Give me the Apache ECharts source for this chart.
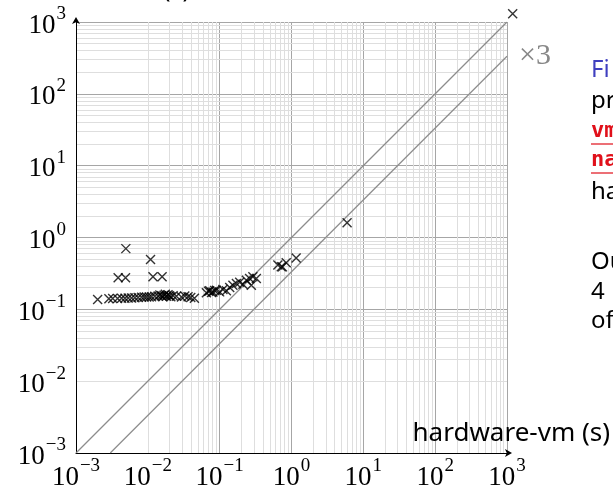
<!DOCTYPE html>
<html lang="en">
<head>
<meta charset="UTF-8" />
<title>hardware-vm scatter</title>
<script src="https://cdn.jsdelivr.net/npm/echarts@6/dist/echarts.min.js"></script>
<style>
  html, body { margin: 0; padding: 0; background: #fff; }
  #main { width: 613px; height: 491px; }
</style>
</head>
<body>
<div id="main"></div>
<script type="text/javascript">
// run times (s): x = hardware-vm, y = other tool
var lowX = [0.0020, 0.00287, 0.00324, 0.00379, 0.00431, 0.0048, 0.00533, 0.00594, 0.0066, 0.00733,
            0.00818, 0.00889, 0.0096, 0.01043, 0.01125, 0.0125, 0.0139, 0.0147, 0.0155, 0.0162,
            0.0168, 0.0175, 0.0182, 0.0191, 0.0200, 0.0209, 0.0225, 0.0250, 0.0294, 0.0327,
            0.0363, 0.0396, 0.0445];
var lowY = [0.137, 0.140, 0.141, 0.142, 0.143, 0.143, 0.144, 0.144, 0.145, 0.146,
            0.147, 0.148, 0.148, 0.149, 0.150, 0.152, 0.153, 0.158, 0.155, 0.150,
            0.157, 0.162, 0.152, 0.160, 0.155, 0.150, 0.155, 0.152, 0.148, 0.153,
            0.150, 0.146, 0.143];
var midX = [0.0653, 0.0700, 0.0726, 0.0770, 0.0807, 0.0850, 0.0900, 0.1000, 0.111, 0.124,
            0.138, 0.153, 0.171, 0.190, 0.211, 0.235, 0.261, 0.276, 0.290, 0.324];
var midY = [0.170, 0.178, 0.181, 0.172, 0.174, 0.183, 0.185, 0.175, 0.189, 0.181,
            0.202, 0.217, 0.229, 0.239, 0.224, 0.255, 0.269, 0.217, 0.284, 0.269];
var highX = [0.646, 0.72, 0.75, 0.844, 1.16, 5.94];
var highY = [0.413, 0.391, 0.39, 0.444, 0.52, 1.6];
var outX = [0.00386, 0.00489, 0.00494, 0.0109, 0.0118, 0.0158, 1200];
var outY = [0.275, 0.275, 0.70, 0.495, 0.285, 0.285, 1300];

var decades = [-3, -2, -1, 0, 1, 2];
var minorMult = [2, 3, 4, 5, 6, 7, 8, 9];

var points = [];
[[lowX, lowY], [midX, midY], [highX, highY], [outX, outY]].forEach(function (p) {
    for (var i = 0; i < p[0].length; i++) points.push([p[0][i], p[1][i]]);
});

var minorLines = [];
decades.forEach(function (d) {
    minorMult.forEach(function (m) {
        var v = m * Math.pow(10, d);
        minorLines.push({ xAxis: v });
        minorLines.push({ yAxis: v });
    });
});

function powLabel(v) {
    var e = Math.round(Math.log10(v));
    return '{b|10}{s|' + (e < 0 ? '\u2212' + (-e) : e) + '}';
}
var richTicks = {
    b: { fontFamily: 'Liberation Serif', fontSize: 27, color: '#000', lineHeight: 34, verticalAlign: 'bottom' },
    s: { fontFamily: 'Liberation Serif', fontSize: 19, color: '#000', lineHeight: 19, verticalAlign: 'top', padding: [0, 0, 0, 1] }
};

var myChart = echarts.init(document.getElementById('main'));
var option = {
    animation: false,
    backgroundColor: '#fff',
    grid: { left: 76, right: 105, top: 22, bottom: 38 },
    xAxis: {
        type: 'log', logBase: 10, min: 0.001, max: 1000, splitNumber: 6,
        name: 'hardware-vm (s)', nameLocation: 'end', nameGap: 103,
        nameTextStyle: { fontFamily: 'Noto Sans', fontSize: 26, color: '#000', align: 'right', verticalAlign: 'bottom', padding: [0, 0, 6, 0] },
        axisLine: { show: true, onZero: false, lineStyle: { color: '#000', width: 1 }, symbol: ['none', 'arrow'], symbolSize: [6, 7], symbolOffset: [0, 5] },
        axisTick: { show: false },
        axisLabel: { formatter: powLabel, rich: richTicks, margin: 4 },
        splitLine: { show: true, lineStyle: { color: '#a6a6a6', width: 1 } }
    },
    yAxis: {
        type: 'log', logBase: 10, min: 0.001, max: 1000, splitNumber: 6,
        axisLine: { show: true, onZero: false, lineStyle: { color: '#000', width: 1 }, symbol: ['none', 'arrow'], symbolSize: [6, 7], symbolOffset: [0, 5] },
        axisTick: { show: false },
        axisLabel: { formatter: powLabel, rich: richTicks, margin: 10 },
        splitLine: { show: true, lineStyle: { color: '#a6a6a6', width: 1 } }
    },
    series: [
        {
            type: 'line', silent: true, z: 0, data: [],
            markLine: {
                z: 0, silent: true, symbol: ['none', 'none'], label: { show: false },
                lineStyle: { color: '#dedede', type: 'solid', width: 1 },
                data: minorLines
            }
        },
        {
            type: 'line', data: [[0.001, 0.001], [1000, 1000]], showSymbol: false, z: 3,
            lineStyle: { color: '#8c8c8c', width: 1.2 }
        },
        {
            type: 'line', data: [[0.003, 0.001], [1000, 1000 / 3]], showSymbol: false, z: 3,
            lineStyle: { color: '#8c8c8c', width: 1.2 },
            endLabel: { show: true, formatter: '\u00d73', fontFamily: 'Liberation Serif', fontSize: 30, color: '#888', distance: 12 }
        },
        {
            type: 'scatter', data: points, clip: false, z: 4,
            symbol: 'path://M0,0L10,10M10,0L0,10', symbolSize: 9,
            itemStyle: { color: 'none', borderColor: '#000', borderWidth: 1.4 }
        }
    ],
    graphic: [
        { type: 'text', left: 163, top: -23, style: { text: '(s)', font: '25px "Noto Sans"', fill: '#000' } },
        { type: 'text', x: 591, y: 70, style: { text: 'Fi', font: '24px "Noto Sans"', fill: '#3f3fbf', verticalAlign: 'middle' } },
        { type: 'text', x: 591, y: 101, style: { text: 'pr', font: '24px "Noto Sans"', fill: '#000', verticalAlign: 'middle' } },
        { type: 'text', x: 591, y: 131, style: { text: 'vm', font: 'bold 22px "DejaVu Sans Mono"', fill: '#e0101a', verticalAlign: 'middle' } },
        { type: 'line', shape: { x1: 591, y1: 144, x2: 613, y2: 144 }, style: { stroke: '#e0101a', lineWidth: 1.2 } },
        { type: 'text', x: 591, y: 160, style: { text: 'na', font: 'bold 22px "DejaVu Sans Mono"', fill: '#e0101a', verticalAlign: 'middle' } },
        { type: 'line', shape: { x1: 591, y1: 173, x2: 613, y2: 173 }, style: { stroke: '#e0101a', lineWidth: 1.2 } },
        { type: 'text', x: 591, y: 192, style: { text: 'ha', font: '24px "Noto Sans"', fill: '#000', verticalAlign: 'middle' } },
        { type: 'text', x: 591, y: 262, style: { text: 'Ou', font: '24px "Noto Sans"', fill: '#000', verticalAlign: 'middle' } },
        { type: 'text', x: 591, y: 292, style: { text: '4', font: '24px "Noto Sans"', fill: '#000', verticalAlign: 'middle' } },
        { type: 'text', x: 591, y: 321, style: { text: 'of', font: '24px "Noto Sans"', fill: '#000', verticalAlign: 'middle' } }
    ]
};
myChart.setOption(option);
</script>
</body>
</html>
